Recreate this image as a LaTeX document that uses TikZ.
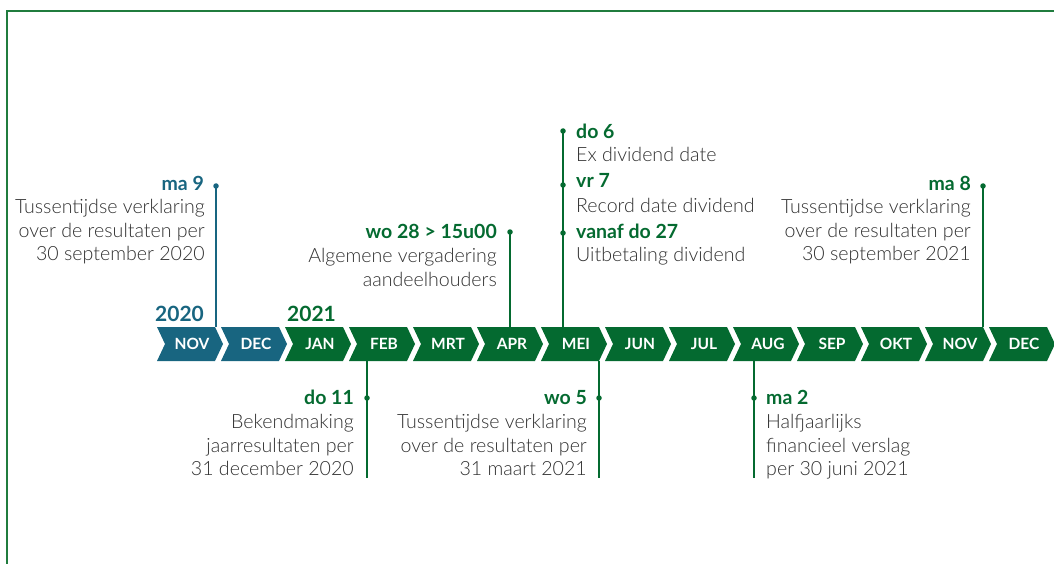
\documentclass[tikz,border=0pt]{standalone}
\usepackage{fontspec}
\setmainfont{Lato}
\newfontfamily\lightfont{Lato}[UprightFont={* Light}]
\definecolor{evgreen}{RGB}{4,106,48}
\definecolor{evblue}{RGB}{24,101,128}
\definecolor{frame}{RGB}{32,124,62}
\definecolor{bodytext}{RGB}{48,48,48}
\begin{document}
\begin{tikzpicture}[x=1pt,y=-1pt,
  month/.style={text=white,font=\fontsize{15.5}{15.5}\selectfont\bfseries,inner sep=0pt},
  datelbl/.style={font=\fontsize{19.5}{19.5}\selectfont\bfseries,inner sep=0pt},
  desc/.style={text=bodytext,font=\fontsize{19.6}{19.6}\selectfont\lightfont,inner sep=0pt},
  year/.style={font=\fontsize{21}{21}\selectfont\bfseries,inner sep=0pt},
  stem/.style={line width=1.6pt},
  dot/.style={circle,fill,inner sep=0pt,minimum size=5.5pt}]
\useasboundingbox (0,0) rectangle (1054,564);
% outer frame (open to the right and bottom)
\draw[frame,line width=2pt] (7,564) -- (7,11) -- (1054,11);

% month chevrons
\foreach \m [count=\i from 0] in {NOV,DEC,JAN,FEB,MRT,APR,MEI,JUN,JUL,AUG,SEP,OKT,NOV,DEC}{
  \pgfmathsetmacro{\xo}{157+64*\i}
  \ifnum\i<2 \def\cc{evblue}\else\def\cc{evgreen}\fi
  \fill[\cc] (\xo,327) -- ++(58,0) -- ++(8,17) -- ++(-8,17) -- ++(-58,0) -- ++(8,-17) -- cycle;
  \node[month] (m\i) at (\xo+35,344) {\m};
}

% years
\node[year,text=evblue,anchor=base west] (y2020) at (155,321) {2020};
\node[year,text=evgreen,anchor=base west] (y2021) at (287,321) {2021};

% ---- events above the bar ----
% ma 9
\coordinate (d1) at (216,186);
\coordinate (e1) at (216,327);
\draw[evblue,stem] (d1) -- (e1);
\node[dot,evblue] at (d1) {};
\node[datelbl,text=evblue,anchor=base east] (l1) at (204,190) {ma 9};
\node[desc,anchor=base east] (t1a) at (205,213) {Tussentijdse verklaring};
\node[desc,anchor=base east] (t1b) at (205,237) {over de resultaten per};
\node[desc,anchor=base east] (t1c) at (205,260) {30 september 2020};

% wo 28
\coordinate (d2) at (510,232);
\coordinate (e2) at (510,327);
\draw[evgreen,stem] (d2) -- (e2);
\node[dot,evgreen] at (d2) {};
\node[datelbl,text=evgreen,anchor=base east] (l2) at (497,238) {wo 28 > 15u00};
\node[desc,anchor=base east] (t2a) at (497,262) {Algemene vergadering};
\node[desc,anchor=base east] (t2b) at (497,286) {aandeelhouders};

% MEI cluster
\coordinate (d3a) at (563,131);
\coordinate (d3b) at (563,185);
\coordinate (d3c) at (563,233);
\coordinate (e3) at (563,327);
\draw[evgreen,stem] (d3a) -- (e3);
\foreach \d in {d3a,d3b,d3c} \node[dot,evgreen] at (\d) {};
\node[datelbl,text=evgreen,anchor=base west] (l3a) at (576,139) {do 6};
\node[desc,anchor=base west] (t3a) at (576,162) {Ex dividend date};
\node[datelbl,text=evgreen,anchor=base west] (l3b) at (576,188) {vr 7};
\node[desc,anchor=base west] (t3b) at (576,212) {Record date dividend};
\node[datelbl,text=evgreen,anchor=base west] (l3c) at (576,238) {vanaf do 27};
\node[desc,anchor=base west] (t3c) at (576,261) {Uitbetaling dividend};

% ma 8
\coordinate (d4) at (983,186);
\coordinate (e4) at (983,327);
\draw[evgreen,stem] (d4) -- (e4);
\node[dot,evgreen] at (d4) {};
\node[datelbl,text=evgreen,anchor=base east] (l4) at (971,190) {ma 8};
\node[desc,anchor=base east] (t4a) at (971,213) {Tussentijdse verklaring};
\node[desc,anchor=base east] (t4b) at (971,237) {over de resultaten per};
\node[desc,anchor=base east] (t4c) at (971,260) {30 september 2021};

% ---- events below the bar ----
% do 11
\coordinate (s5) at (367,361);
\coordinate (d5) at (367,398);
\coordinate (f5) at (367,478);
\draw[evgreen,stem] (s5) -- (f5);
\node[dot,evgreen] at (d5) {};
\node[datelbl,text=evgreen,anchor=base east] (l5) at (354,404) {do 11};
\node[desc,anchor=base east] (t5a) at (354,428) {Bekendmaking};
\node[desc,anchor=base east] (t5b) at (354,452) {jaarresultaten per};
\node[desc,anchor=base east] (t5c) at (354,475) {31 december 2020};

% wo 5
\coordinate (s6) at (599,361);
\coordinate (d6) at (599,398);
\coordinate (f6) at (599,478);
\draw[evgreen,stem] (s6) -- (f6);
\node[dot,evgreen] at (d6) {};
\node[datelbl,text=evgreen,anchor=base east] (l6) at (587,404) {wo 5};
\node[desc,anchor=base east] (t6a) at (587,428) {Tussentijdse verklaring};
\node[desc,anchor=base east] (t6b) at (587,452) {over de resultaten per};
\node[desc,anchor=base east] (t6c) at (587,475) {31 maart 2021};

% ma 2
\coordinate (s7) at (754,361);
\coordinate (d7) at (754,398);
\coordinate (f7) at (754,478);
\draw[evgreen,stem] (s7) -- (f7);
\node[dot,evgreen] at (d7) {};
\node[datelbl,text=evgreen,anchor=base west] (l7) at (766,404) {ma 2};
\node[desc,anchor=base west] (t7a) at (766,428) {Halfjaarlijks};
\node[desc,anchor=base west] (t7b) at (766,452) {financieel verslag};
\node[desc,anchor=base west] (t7c) at (766,475) {per 30 juni 2021};
\end{tikzpicture}
\end{document}
